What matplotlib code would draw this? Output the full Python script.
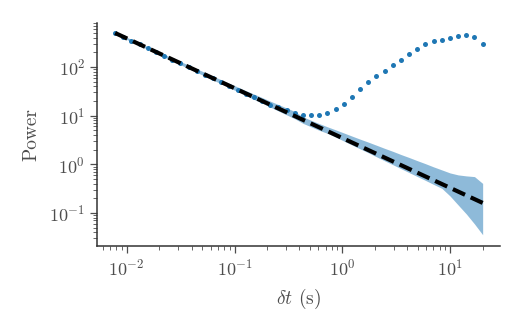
import numpy as np
import matplotlib
matplotlib.use('Agg')
import matplotlib.pyplot as plt

plt.rcParams['font.family'] = 'serif'
plt.rcParams['font.serif'] = ['cmr10', 'DejaVu Serif']
plt.rcParams['mathtext.fontset'] = 'cm'
plt.rcParams['axes.formatter.use_mathtext'] = True
plt.rcParams['axes.unicode_minus'] = False

# lag times (s)
lags = [0.00782, 0.00930, 0.01108, 0.01319, 0.01570, 0.01869, 0.02225, 0.02649,
        0.03153, 0.03755, 0.04470, 0.05321, 0.06334, 0.07541, 0.0898, 0.1069,
        0.1272, 0.1515, 0.1803, 0.2147, 0.2556, 0.3042, 0.3622, 0.4312,
        0.5133, 0.6111, 0.7278, 0.8664, 1.031, 1.228, 1.462, 1.741,
        2.072, 2.467, 2.937, 3.497, 4.163, 4.955, 5.900, 7.023,
        8.362, 9.954, 11.85, 14.11, 16.80, 20.0]

# single realisation (dots)
power = [501, 419, 350, 293, 245, 205, 171, 143, 120, 100, 83.6, 69.9,
         58.4, 48.8, 40.8, 34.1, 28.5, 23.8, 19.9, 16.7, 14.8, 12.9,
         11.3, 10.4, 10.1, 10.3, 11.3, 13.6, 17.8, 24.8, 35.2, 48.2,
         64.1, 82.8, 108, 141, 188, 238, 292, 336, 365, 395,
         426, 447, 420, 301]

# spread of the ensemble (shaded band)
band_hi = [525.5, 441, 370.1, 312.1, 261.8, 219.7, 184.3, 154.6, 130.4, 109.4,
           91.8, 77.4, 65.0, 54.8, 46.2, 38.9, 32.8, 27.8, 23.6, 19.9,
           16.9, 14.4, 12.2, 9.48, 8.03, 6.87, 5.90, 5.12, 4.42, 3.81,
           3.29, 2.86, 2.47, 2.13, 1.85, 1.59, 1.38, 1.19, 1.03, 0.885,
           0.768, 0.666, 0.606, 0.578, 0.559, 0.405]
band_lo = [478, 397, 332, 277, 231, 192, 161, 134, 112, 93.1,
           77.8, 64.7, 54.0, 45.1, 37.5, 31.3, 26.0, 21.6, 18.1, 15.0,
           12.5, 10.4, 8.66, 6.96, 5.90, 5.00, 4.34, 3.64, 3.02, 2.50,
           2.08, 1.73, 1.43, 1.18, 0.983, 0.813, 0.676, 0.562, 0.467, 0.386,
           0.321, 0.224, 0.146, 0.0954, 0.0594, 0.0357]

# power-law fit endpoints
fit_x = [0.00782, 20.0]
fit_y = [501, 0.161]

fig = plt.figure(figsize=(5.24, 3.24), dpi=100)
ax = fig.add_axes([0.185, 0.241, 0.769, 0.688])

ax.fill_between(lags, band_lo, band_hi, color='#1f77b4', alpha=0.5, lw=0, zorder=1)
ax.plot(lags, power, 'o', color='#1f77b4', ms=3.6, mew=0, zorder=2)
ax.plot(fit_x, fit_y, '--', color='black', lw=3, dashes=(3.2, 1.5), zorder=3)

ax.set_xscale('log')
ax.set_yscale('log')
ax.set_xlim(0.0053, 28.9)
ax.set_ylim(0.021, 805)

ax.spines['top'].set_visible(False)
ax.spines['right'].set_visible(False)
for s in ['left', 'bottom']:
    ax.spines[s].set_color('0.2')
    ax.spines[s].set_linewidth(1.1)

ax.tick_params(which='major', length=5, width=0.9, color='0.3', labelcolor='0.3', labelsize=13)
ax.tick_params(which='minor', length=2.8, width=0.7, color='0.4')
ax.yaxis.set_minor_locator(matplotlib.ticker.LogLocator(subs=np.arange(2, 10), numticks=20))
ax.xaxis.set_minor_locator(matplotlib.ticker.LogLocator(subs=np.arange(2, 10), numticks=20))

ax.set_ylabel('Power', fontsize=14, color='0.3', labelpad=6)
ax.set_xlabel(r'$\delta t$ (s)', fontsize=14, color='0.3', labelpad=6)

fig.savefig('out.png', dpi=100)
